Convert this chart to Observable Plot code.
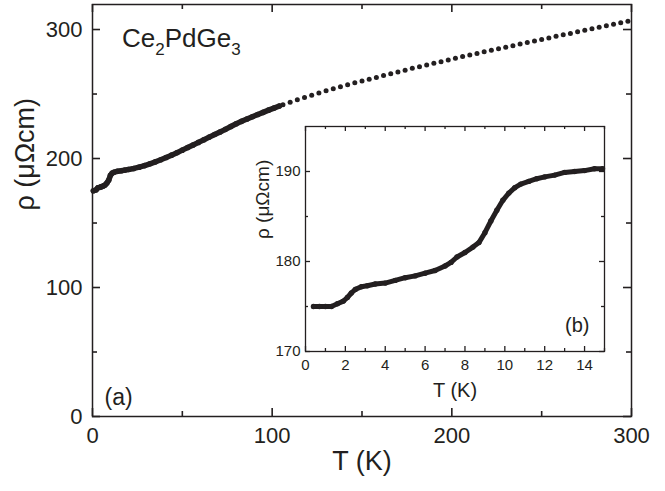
<!DOCTYPE html>
<html><head><meta charset="utf-8">
<script src="https://cdn.jsdelivr.net/npm/d3@7"></script>
<script src="https://cdn.jsdelivr.net/npm/@observablehq/plot@0.6"></script>
<style>
body{margin:0;background:#fff;}
#wrap{position:relative;width:665px;height:491px;font-family:"Liberation Sans",Arial,sans-serif;color:#231f20;}
#inset{position:absolute;left:240px;top:120px;}
#formula{position:absolute;left:122px;top:25px;font-size:26px;line-height:1;white-space:nowrap;}
#formula sub{font-size:17px;vertical-align:-8px;line-height:0;}
</style></head><body>
<div id="wrap"><div id="main"></div><div id="inset"></div><div id="formula">Ce<sub>2</sub>PdGe<sub>3</sub></div></div>
<script>
// Main panel (a): dense low-T data
const mainT   = [0.5, 2, 3, 4, 5, 6, 7, 8, 9, 10, 11, 12, 14, 16, 18, 20, 23, 26, 29, 32, 35, 38, 41, 44, 47, 50, 53, 56, 59, 62, 65, 68, 71, 74, 77, 80, 83, 86, 89, 92, 95, 98, 101, 104];
const mainRho = [175.0, 175.7, 177.3, 177.6, 178.2, 178.7, 179.5, 181.0, 183.2, 187.0, 188.7, 189.4, 190.1, 190.5, 191.0, 191.5, 192.3, 193.3, 194.5, 195.9, 197.4, 199.0, 200.8, 202.6, 204.5, 206.5, 208.5, 210.5, 212.5, 214.5, 216.6, 218.6, 220.6, 222.6, 224.8, 226.9, 228.8, 230.6, 232.4, 234.1, 235.8, 237.5, 239.1, 240.7];
// Main panel (a): sparse high-T data
const sparseT   = [106, 110, 114, 118, 122, 126, 130, 134, 138, 142, 146, 150, 154, 158, 162, 166, 170, 174, 178, 182, 186, 190, 194, 198, 202, 206, 210, 214, 218, 222, 226, 230, 234, 238, 242, 246, 250, 254, 258, 262, 266, 270, 274, 278, 282, 286, 290, 294, 298];
const sparseRho = [241.7, 243.6, 245.5, 247.3, 249.1, 250.8, 252.5, 254.1, 255.7, 257.2, 258.7, 260.1, 261.5, 262.9, 264.3, 265.7, 267.1, 268.5, 269.9, 271.2, 272.5, 273.8, 275.1, 276.4, 277.7, 279.0, 280.2, 281.5, 282.7, 283.9, 285.1, 286.3, 287.5, 288.7, 289.9, 291.1, 292.3, 293.5, 294.7, 295.9, 297.0, 298.2, 299.4, 300.6, 301.8, 303.0, 304.1, 305.3, 306.5];
// Inset panel (b)
const insetT   = [0.4, 0.7, 1.0, 1.3, 1.6, 1.9, 2.1, 2.3, 2.5, 2.8, 3.1, 3.5, 4.0, 4.5, 5.0, 5.5, 6.0, 6.5, 7.0, 7.3, 7.6, 8.0, 8.4, 8.7, 9.0, 9.3, 9.6, 9.9, 10.2, 10.5, 10.8, 11.2, 11.6, 12.0, 12.5, 13.0, 13.5, 14.0, 14.5, 14.9];
const insetRho = [175.0, 175.0, 175.0, 175.0, 175.3, 175.6, 176.0, 176.5, 176.9, 177.2, 177.3, 177.5, 177.6, 177.9, 178.2, 178.4, 178.7, 179.0, 179.5, 179.9, 180.5, 181.0, 181.6, 182.1, 183.2, 184.5, 185.7, 186.8, 187.6, 188.2, 188.6, 188.9, 189.2, 189.4, 189.6, 189.9, 190.0, 190.1, 190.3, 190.3];

// Ticks
const mainXTicks = [0, 100, 200, 300];
const mainXMinor = [50, 150, 250];
const mainYTicks = [0, 100, 200, 300];
const mainYMinor = [50, 150, 250];
const insetXTicks = [0, 2, 4, 6, 8, 10, 12, 14];
const insetXMinor = [1, 3, 5, 7, 9, 11, 13, 15];
const insetYTicks = [170, 180, 190];
const insetYMinor = [175, 185];

const ink = "#231f20";
const dense = mainT.map((t, i) => ({T: t, rho: mainRho[i]}));
const sparse = sparseT.map((t, i) => ({T: t, rho: sparseRho[i]}));
const insetData = insetT.map((t, i) => ({T: t, rho: insetRho[i]}));

// inward ticks on all four sides; fw/fh = frame width/height in px
function inwardTicks(xMaj, xMin, yMaj, yMin, maj, min, sw, fw, fh) {
  const o = {stroke: ink, strokeWidth: sw};
  const id = d => d;
  return [
    Plot.tickX(xMaj, {...o, x: id, insetTop: fh - maj}),
    Plot.tickX(xMaj, {...o, x: id, insetBottom: fh - maj}),
    Plot.tickX(xMin, {...o, x: id, insetTop: fh - min}),
    Plot.tickX(xMin, {...o, x: id, insetBottom: fh - min}),
    Plot.tickY(yMaj, {...o, y: id, insetRight: fw - maj}),
    Plot.tickY(yMaj, {...o, y: id, insetLeft: fw - maj}),
    Plot.tickY(yMin, {...o, y: id, insetRight: fw - min}),
    Plot.tickY(yMin, {...o, y: id, insetLeft: fw - min})
  ];
}

const main = Plot.plot({
  width: 665, height: 491,
  marginLeft: 92, marginRight: 34, marginTop: 4, marginBottom: 75,
  style: {fontFamily: "'Liberation Sans', Arial, sans-serif", color: ink, background: "transparent"},
  x: {domain: [0, 300]},
  y: {domain: [0, 319.4]},
  marks: [
    Plot.frame({stroke: ink, strokeWidth: 1.5}),
    ...inwardTicks(mainXTicks, mainXMinor, mainYTicks, mainYMinor, 8, 5, 1.6, 539, 412),
    Plot.axisX(mainXTicks, {anchor: "bottom", tickSize: 0, tickPadding: 11, fontSize: 22, fill: ink, label: null}),
    Plot.axisY(mainYTicks, {anchor: "left", tickSize: 0, tickPadding: 10, fontSize: 22, fill: ink, label: null}),
    Plot.text(["T (K)"], {frameAnchor: "bottom", dy: 45, lineAnchor: "middle", fontSize: 27, fill: ink}),
    Plot.text(["ρ (μΩcm)"], {frameAnchor: "left", dx: -67, rotate: -90, lineAnchor: "middle", fontSize: 27, fill: ink}),
    Plot.text(["(a)"], {frameAnchor: "bottom-left", dx: 12, dy: -19, textAnchor: "start", lineAnchor: "middle", fontSize: 23, fill: ink}),
    Plot.line(dense, {x: "T", y: "rho", stroke: ink, strokeWidth: 5.5, strokeLinecap: "round", strokeLinejoin: "round"}),
    Plot.dot(dense, {x: "T", y: "rho", r: 2.8, fill: ink}),
    Plot.dot(sparse, {x: "T", y: "rho", r: 2.5, fill: ink})
  ]
});
document.getElementById("main").append(main);

const ins = Plot.plot({
  width: 370, height: 285,
  marginLeft: 65, marginRight: 6, marginTop: 6, marginBottom: 54,
  style: {fontFamily: "'Liberation Sans', Arial, sans-serif", color: ink, background: "transparent"},
  x: {domain: [0, 15]},
  y: {domain: [170, 195]},
  marks: [
    Plot.frame({stroke: ink, strokeWidth: 1.3}),
    ...inwardTicks(insetXTicks, insetXMinor, insetYTicks, insetYMinor, 5, 3, 1.3, 299, 225),
    Plot.axisX(insetXTicks, {anchor: "bottom", tickSize: 0, tickPadding: 8, fontSize: 15, fill: ink, label: null}),
    Plot.axisY(insetYTicks, {anchor: "left", tickSize: 0, tickPadding: 5, fontSize: 15, fill: ink, label: null}),
    Plot.text(["T (K)"], {frameAnchor: "bottom", dy: 39, lineAnchor: "middle", fontSize: 20, fill: ink}),
    Plot.text(["ρ (μΩcm)"], {frameAnchor: "left", dx: -43, rotate: -90, lineAnchor: "middle", fontSize: 19, fill: ink}),
    Plot.text(["(b)"], {frameAnchor: "bottom-right", dx: -15, dy: -26, textAnchor: "end", lineAnchor: "middle", fontSize: 20, fill: ink}),
    Plot.line(insetData, {x: "T", y: "rho", stroke: ink, strokeWidth: 5, strokeLinecap: "round", strokeLinejoin: "round"}),
    Plot.dot(insetData, {x: "T", y: "rho", r: 2.7, fill: ink})
  ]
});
document.getElementById("inset").append(ins);
</script>
</body></html>
